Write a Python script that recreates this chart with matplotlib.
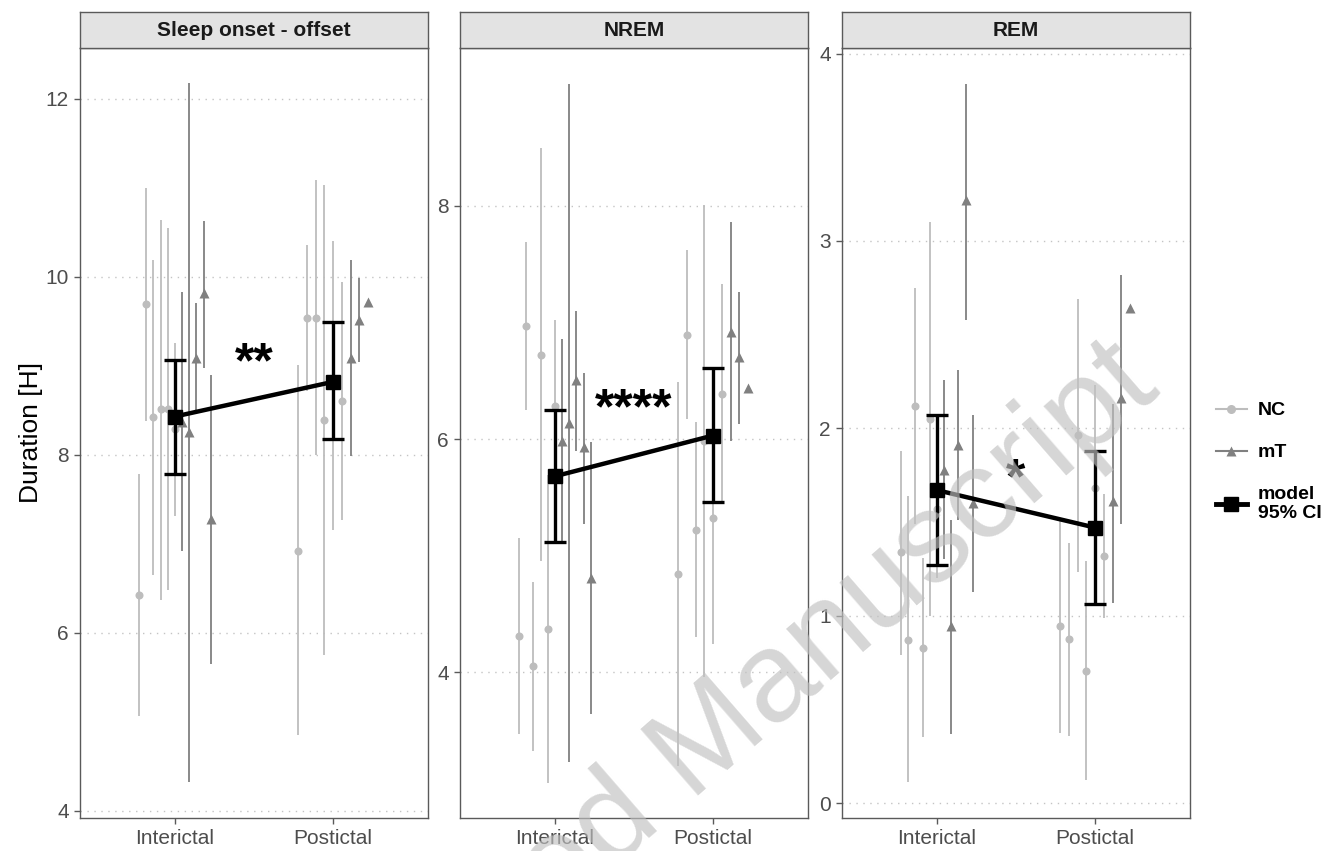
import numpy as np
import matplotlib
matplotlib.use("Agg")
from matplotlib import pyplot as plt
from matplotlib.lines import Line2D

plt.rcParams['font.family'] = ['Liberation Sans', 'DejaVu Sans']

# Conditions on the x axis
conditions = ["Interictal", "Postictal"]
panels = ["Sleep onset - offset", "NREM", "REM"]

# --- Sleep onset - offset (hours) ---
son_int_nc = [6.42, 9.69, 8.42, 8.51, 8.52, 8.29]
son_int_nc_lo = [5.07, 8.38, 6.65, 6.37, 6.48, 7.31]
son_int_nc_hi = [7.79, 11.00, 10.19, 10.64, 10.55, 9.26]
son_int_mt = [8.37, 8.26, 9.09, 9.82, 7.28]
son_int_mt_lo = [6.92, 4.32, 8.48, 8.98, 5.65]
son_int_mt_hi = [9.83, 12.18, 9.70, 10.63, 8.90]
son_pos_nc = [6.92, 9.54, 9.54, 8.39, 8.78, 8.61]
son_pos_nc_lo = [4.85, 8.72, 8.00, 5.75, 7.16, 7.27]
son_pos_nc_hi = [9.01, 10.36, 11.09, 11.03, 10.40, 9.94]
son_pos_mt = [9.09, 9.52, 9.72]
son_pos_mt_lo = [7.99, 9.04, np.nan]
son_pos_mt_hi = [10.19, 9.99, np.nan]
son_model = [8.43, 8.82]
son_model_lo = [7.79, 8.18]
son_model_hi = [9.07, 9.49]

# --- NREM (hours) ---
nrem_int_nc = [4.31, 6.97, 4.05, 6.72, 4.37, 6.28]
nrem_int_nc_lo = [3.47, 6.25, 3.32, 4.95, 3.05, 5.54]
nrem_int_nc_hi = [5.15, 7.69, 4.77, 8.50, 5.69, 7.02]
nrem_int_mt = [5.98, 6.14, 6.51, 5.93, 4.81]
nrem_int_mt_lo = [5.10, 3.23, 5.90, 5.27, 3.64]
nrem_int_mt_hi = [6.86, 9.05, 7.10, 6.57, 5.97]
nrem_pos_nc = [4.84, 6.89, 5.22, 5.98, 5.32, 6.39]
nrem_pos_nc_lo = [3.19, 6.17, 4.30, 3.96, 4.24, 5.45]
nrem_pos_nc_hi = [6.49, 7.62, 6.15, 8.01, 6.40, 7.33]
nrem_pos_mt = [6.92, 6.70, 6.44]
nrem_pos_mt_lo = [5.98, 6.13, np.nan]
nrem_pos_mt_hi = [7.86, 7.26, np.nan]
nrem_model = [5.68, 6.03]
nrem_model_lo = [5.12, 5.46]
nrem_model_hi = [6.25, 6.61]

# --- REM (hours) ---
rem_int_nc = [1.34, 0.87, 2.12, 0.83, 2.05, 1.57]
rem_int_nc_lo = [0.79, 0.11, 1.49, 0.35, 1.00, 1.20]
rem_int_nc_hi = [1.88, 1.64, 2.75, 1.31, 3.10, 1.94]
rem_int_mt = [1.78, 0.945, 1.91, 3.22, 1.60]
rem_int_mt_lo = [1.30, 0.37, 1.51, 2.58, 1.125]
rem_int_mt_hi = [2.26, 1.51, 2.31, 3.84, 2.07]
rem_pos_nc = [0.945, 0.874, 1.965, 0.706, 1.68, 1.32]
rem_pos_nc_lo = [0.375, 0.36, 1.235, 0.123, 1.13, 0.99]
rem_pos_nc_hi = [1.51, 1.39, 2.69, 1.29, 2.23, 1.65]
rem_pos_mt = [1.61, 2.16, 2.64]
rem_pos_mt_lo = [1.07, 1.49, np.nan]
rem_pos_mt_hi = [2.13, 2.82, np.nan]
rem_model = [1.67, 1.47]
rem_model_lo = [1.27, 1.06]
rem_model_hi = [2.07, 1.88]

stars = ["**", "****", "*"]
star_y = [9.02, 6.25, 1.72]

ylims = [(3.92, 12.57), (2.747, 9.356), (-0.08, 4.03)]
yticks = [[4, 6, 8, 10, 12], [4, 6, 8], [0, 1, 2, 3, 4]]

LIGHT = "#bdbdbd"
DARK = "#808080"
AXCOL = "#5a5a5a"
TXTCOL = "#4d4d4d"

panel_data = [
    dict(int_nc=(son_int_nc, son_int_nc_lo, son_int_nc_hi),
         int_mt=(son_int_mt, son_int_mt_lo, son_int_mt_hi),
         pos_nc=(son_pos_nc, son_pos_nc_lo, son_pos_nc_hi),
         pos_mt=(son_pos_mt, son_pos_mt_lo, son_pos_mt_hi),
         model=(son_model, son_model_lo, son_model_hi)),
    dict(int_nc=(nrem_int_nc, nrem_int_nc_lo, nrem_int_nc_hi),
         int_mt=(nrem_int_mt, nrem_int_mt_lo, nrem_int_mt_hi),
         pos_nc=(nrem_pos_nc, nrem_pos_nc_lo, nrem_pos_nc_hi),
         pos_mt=(nrem_pos_mt, nrem_pos_mt_lo, nrem_pos_mt_hi),
         model=(nrem_model, nrem_model_lo, nrem_model_hi)),
    dict(int_nc=(rem_int_nc, rem_int_nc_lo, rem_int_nc_hi),
         int_mt=(rem_int_mt, rem_int_mt_lo, rem_int_mt_hi),
         pos_nc=(rem_pos_nc, rem_pos_nc_lo, rem_pos_nc_hi),
         pos_mt=(rem_pos_mt, rem_pos_mt_lo, rem_pos_mt_hi),
         model=(rem_model, rem_model_lo, rem_model_hi)),
]


def draw_subjects(ax, xc, nc, mt, dodge=0.5):
    # subjects are dodged side by side around the condition position
    n = len(nc[0]) + len(mt[0])
    step = dodge / n
    xs = xc + (np.arange(n) - (n - 1) / 2) * step
    groups = [(nc, xs[:len(nc[0])], LIGHT, "o", 5.8),
              (mt, xs[len(nc[0]):], DARK, "^", 6.8)]
    for (mid, lo, hi), x, col, mk, ms in groups:
        lo = np.asarray(lo, float)
        hi = np.asarray(hi, float)
        ok = np.isfinite(lo) & np.isfinite(hi)
        ax.vlines(x[ok], lo[ok], hi[ok], color=col, lw=1.3, zorder=2)
        ax.plot(x, mid, ls="none", marker=mk, ms=ms, color=col,
                mec="none", zorder=3)


W, H = 1329, 851
fig = plt.figure(figsize=(W / 100, H / 100), dpi=100)
lefts = [80, 460, 842]
pw, top, bottom, strip_h = 348, 48, 818, 36

for i, left in enumerate(lefts):
    ax = fig.add_axes([left / W, (H - bottom) / H, pw / W, (bottom - top) / H])
    d = panel_data[i]
    draw_subjects(ax, 1, d["int_nc"], d["int_mt"])
    draw_subjects(ax, 2, d["pos_nc"], d["pos_mt"])

    m, lo, hi = d["model"]
    m = np.asarray(m)
    ax.errorbar([1, 2], m, yerr=[m - np.asarray(lo), np.asarray(hi) - m],
                fmt="s-", color="black", lw=3.2, ms=10, elinewidth=2.4,
                capsize=8, capthick=2.4, zorder=5)
    ax.text(1.5, star_y[i], stars[i], ha="center", va="center",
            fontsize=36, fontweight="bold", zorder=6)

    ax.set_xlim(0.4, 2.6)
    ax.set_ylim(*ylims[i])
    ax.set_xticks([1, 2])
    ax.set_xticklabels(conditions)
    ax.set_yticks(yticks[i])
    ax.tick_params(colors=AXCOL, labelcolor=TXTCOL, labelsize=15,
                   length=4.5, width=1.0)
    ax.yaxis.grid(True, color="#c4c4c4", lw=1.0, ls=(0, (1, 4)))
    ax.set_axisbelow(True)
    for s in ax.spines.values():
        s.set_color(AXCOL)
        s.set_linewidth(1.0)
    if i == 0:
        ax.set_ylabel("Duration [H]", fontsize=19, labelpad=2)

    # facet strip
    sax = fig.add_axes([left / W, (H - top) / H, pw / W, strip_h / H])
    sax.set_facecolor("#e3e3e3")
    sax.set_xticks([])
    sax.set_yticks([])
    for s in sax.spines.values():
        s.set_color(AXCOL)
        s.set_linewidth(1.0)
    sax.text(0.5, 0.5, panels[i], ha="center", va="center",
             fontsize=15, fontweight="bold", color="#1a1a1a",
             transform=sax.transAxes)

handles = [
    Line2D([], [], color=LIGHT, marker="o", ms=6.5, mec="none", lw=1.5),
    Line2D([], [], color=DARK, marker="^", ms=7.5, mec="none", lw=1.5),
    Line2D([], [], color="black", marker="s", ms=10, lw=3.5),
]
fig.legend(handles, ["NC", "mT", "model\n95% CI"], loc="center left",
           bbox_to_anchor=(1198 / W, 1 - 462 / H), frameon=False,
           prop={"weight": "bold", "size": 14}, handlelength=1.6,
           handletextpad=0.57, labelspacing=1.25)

fig.text(1162 / W, 1 - 392 / H, "Accepted Manuscript", rotation=41,
         rotation_mode="anchor", ha="right", va="baseline",
         fontsize=92, color="#c0c0c0", alpha=0.65, zorder=10)

fig.savefig("out.png", dpi=100)
